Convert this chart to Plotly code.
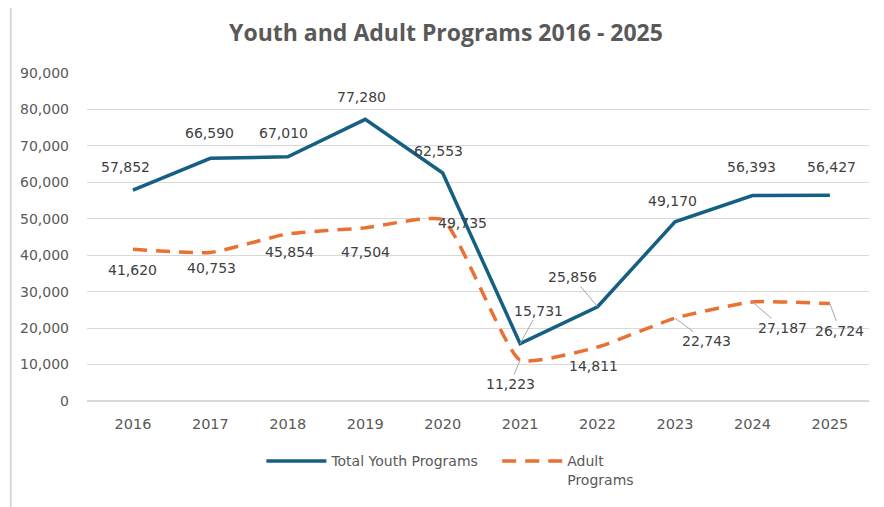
import plotly.graph_objects as go

years = ["2016", "2017", "2018", "2019", "2020", "2021", "2022", "2023", "2024", "2025"]
youth = [57852, 66590, 67010, 77280, 62553, 15731, 25856, 49170, 56393, 56427]
adult = [41620, 40753, 45854, 47504, 49735, 11223, 14811, 22743, 27187, 26724]

# label offsets in pixels (label centre relative to point), and whether a leader line shows
youth_off = [(-7, -23, 0), (-1, -25, 0), (-4, -24, 0), (-4, -22, 0), (-4, -22, 0),
             (18, -33, 1), (-25, -30, 1), (-3, -21, 0), (-1, -28, 0), (2, -28, 0)]
adult_off = [(0, 21, 0), (1, 16, 0), (2, 18, 0), (0, 24, 0), (20, 3, 0),
             (-10, 24, 1), (-4, 19, 0), (31, 23, 1), (30, 26, 1), (10, 27, 1)]

BLUE = "#156082"
ORANGE = "#E97132"
FONT = "DejaVu Sans"

fig = go.Figure()
fig.add_trace(go.Scatter(x=years, y=youth, mode="lines", name="Total Youth Programs   ",
                         line=dict(color=BLUE, width=3.5)))
fig.add_trace(go.Scatter(x=years, y=adult, mode="lines", name="Adult<br>Programs",
                         line=dict(color=ORANGE, width=3.5, dash="14px,9px", shape="spline", smoothing=0.45)))

ann = []
for vals, offs in ((youth, youth_off), (adult, adult_off)):
    for i, (v, (dx, dy, lead)) in enumerate(zip(vals, offs)):
        ann.append(dict(x=i, y=v, xref="x", yref="y", text=f"{v:,}",
                        showarrow=True, ax=dx, ay=dy, axref="pixel", ayref="pixel",
                        arrowhead=0, arrowwidth=1,
                        arrowcolor="#a6a6a6" if lead else "rgba(255,255,255,0)",
                        font=dict(family=FONT, size=14, color="#404040")))

fig.update_layout(
    width=876, height=499,
    paper_bgcolor="white", plot_bgcolor="white",
    margin=dict(l=77, r=15, t=65, b=106),
    title=dict(text="<b>Youth and Adult Programs 2016 - 2025</b>", x=0.5, xanchor="center",
               y=0.95, yanchor="middle",
               font=dict(family="Open Sans", size=23, color="#595959")),
    font=dict(family=FONT, size=14, color="#595959"),
    xaxis=dict(type="category", range=[-0.593, 9.505], showgrid=False, showline=False, ticks="",
               ticklabelstandoff=12,
               tickfont=dict(family=FONT, size=14.5, color="#595959")),
    yaxis=dict(range=[0, 90000], dtick=10000, tickformat=",", showgrid=True,
               gridcolor="#d9d9d9", gridwidth=1, zeroline=True, zerolinecolor="#d9d9d9",
               ticks="", ticklabelstandoff=17, tickfont=dict(family=FONT, size=14, color="#595959")),
    legend=dict(orientation="h", x=0.223, xanchor="left", y=-0.135, yanchor="top",
                valign="top",
                font=dict(family=FONT, size=14, color="#595959"), itemwidth=60, tracegroupgap=0),
    annotations=ann,
    shapes=[
        dict(type="line", xref="paper", yref="paper", x0=-0.0975, x1=-0.0975, y0=-0.4, y1=1.3,
             line=dict(color="#d9d9d9", width=2)),
    ],
    showlegend=True,
)

fig.write_html("out.html")
